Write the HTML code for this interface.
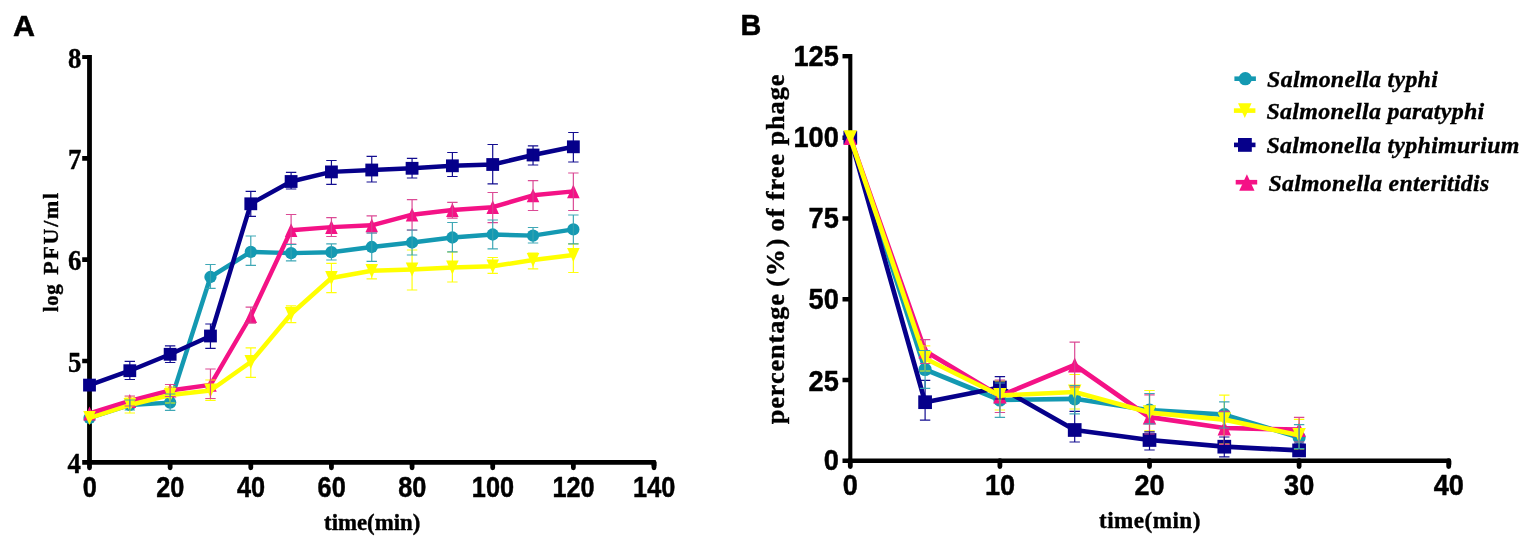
<!DOCTYPE html>
<html lang="en">
<head>
<meta charset="utf-8">
<title>Figure</title>
<style>
html,body{margin:0;padding:0;background:#fff;}
body{width:1535px;height:544px;overflow:hidden;}
svg{display:block;}
</style>
</head>
<body>
<svg width="1535" height="544" viewBox="0 0 1535 544" role="img" aria-label="Figure: one-step growth curve (A) and adsorption curve (B) of phage on four Salmonella serovars">
<rect width="1535" height="544" fill="#fff"/>
<text transform="translate(13.1 35.7) scale(1.02 1)" font-family='"Liberation Sans", sans-serif' font-size="29.9" font-weight="bold" text-anchor="start" fill="#000" stroke="#000" stroke-width="0.5" stroke-linejoin="round">A</text>
<text transform="translate(740.5 35.3) scale(0.95 1)" font-family='"Liberation Sans", sans-serif' font-size="30.3" font-weight="bold" text-anchor="start" fill="#000" stroke="#000" stroke-width="0.5" stroke-linejoin="round">B</text>
<g id="chartA">
<path d="M89.5,55.1V462.3H654V466.3" stroke="#000" stroke-width="4.8" fill="none" stroke-linejoin="round"/>
<path d="M82.2,462.3H89.5M82.2,360.98H89.5M82.2,259.65H89.5M82.2,158.32H89.5" stroke="#000" stroke-width="4.7" fill="none"/>
<path d="M82.2,57.05H89.5" stroke="#000" stroke-width="3.9" fill="none"/>
<path d="M89.5,462.3V467.8M170.14,462.3V467.8M250.79,462.3V467.8M331.43,462.3V467.8M412.07,462.3V467.8M492.71,462.3V467.8M573.36,462.3V467.8M654,462.3V467.8" stroke="#000" stroke-width="4.8" fill="none" stroke-linecap="round" stroke-linejoin="round"/>
<polyline points="89.5,418 129.82,405 170.14,402.6 210.46,277 250.79,251.8 291.11,253.1 331.43,252.2 371.75,247 412.07,242.5 452.39,237.5 492.71,234.5 533.04,235.6 573.36,229.4" fill="none" stroke="#1499b2" stroke-width="4.45" stroke-linejoin="round"/>
<circle cx="89.5" cy="418" r="6.14" fill="#1499b2"/>
<circle cx="129.82" cy="405" r="6.14" fill="#1499b2"/>
<circle cx="170.14" cy="402.6" r="6.14" fill="#1499b2"/>
<circle cx="210.46" cy="277" r="6.14" fill="#1499b2"/>
<circle cx="250.79" cy="251.8" r="6.14" fill="#1499b2"/>
<circle cx="291.11" cy="253.1" r="6.14" fill="#1499b2"/>
<circle cx="331.43" cy="252.2" r="6.14" fill="#1499b2"/>
<circle cx="371.75" cy="247" r="6.14" fill="#1499b2"/>
<circle cx="412.07" cy="242.5" r="6.14" fill="#1499b2"/>
<circle cx="452.39" cy="237.5" r="6.14" fill="#1499b2"/>
<circle cx="492.71" cy="234.5" r="6.14" fill="#1499b2"/>
<circle cx="533.04" cy="235.6" r="6.14" fill="#1499b2"/>
<circle cx="573.36" cy="229.4" r="6.14" fill="#1499b2"/>
<polyline points="89.5,385.1 129.82,370.7 170.14,354.3 210.46,336 250.79,203.8 291.11,181.5 331.43,171.9 371.75,170 412.07,168.3 452.39,165.8 492.71,164.5 533.04,155 573.36,146.8" fill="none" stroke="#06008a" stroke-width="4.45" stroke-linejoin="round"/>
<rect x="83.1" y="378.7" width="12.8" height="12.8" fill="#06008a"/>
<rect x="123.42" y="364.3" width="12.8" height="12.8" fill="#06008a"/>
<rect x="163.74" y="347.9" width="12.8" height="12.8" fill="#06008a"/>
<rect x="204.06" y="329.6" width="12.8" height="12.8" fill="#06008a"/>
<rect x="244.39" y="197.4" width="12.8" height="12.8" fill="#06008a"/>
<rect x="284.71" y="175.1" width="12.8" height="12.8" fill="#06008a"/>
<rect x="325.03" y="165.5" width="12.8" height="12.8" fill="#06008a"/>
<rect x="365.35" y="163.6" width="12.8" height="12.8" fill="#06008a"/>
<rect x="405.67" y="161.9" width="12.8" height="12.8" fill="#06008a"/>
<rect x="445.99" y="159.4" width="12.8" height="12.8" fill="#06008a"/>
<rect x="486.31" y="158.1" width="12.8" height="12.8" fill="#06008a"/>
<rect x="526.64" y="148.6" width="12.8" height="12.8" fill="#06008a"/>
<rect x="566.96" y="140.4" width="12.8" height="12.8" fill="#06008a"/>
<polyline points="89.5,413.5 129.82,401 170.14,390.5 210.46,384.9 250.79,316 291.11,230.2 331.43,227.1 371.75,225.3 412.07,214.7 452.39,210 492.71,207.2 533.04,195.3 573.36,191.4" fill="none" stroke="#f41286" stroke-width="4.45" stroke-linejoin="round"/>
<polygon points="89.5,406.59 95.77,420.41 83.23,420.41" fill="#f41286"/>
<polygon points="129.82,394.09 136.09,407.91 123.55,407.91" fill="#f41286"/>
<polygon points="170.14,383.59 176.41,397.41 163.87,397.41" fill="#f41286"/>
<polygon points="210.46,377.99 216.74,391.81 204.19,391.81" fill="#f41286"/>
<polygon points="250.79,309.09 257.06,322.91 244.51,322.91" fill="#f41286"/>
<polygon points="291.11,223.29 297.38,237.11 284.84,237.11" fill="#f41286"/>
<polygon points="331.43,220.19 337.7,234.01 325.16,234.01" fill="#f41286"/>
<polygon points="371.75,218.39 378.02,232.21 365.48,232.21" fill="#f41286"/>
<polygon points="412.07,207.79 418.34,221.61 405.8,221.61" fill="#f41286"/>
<polygon points="452.39,203.09 458.66,216.91 446.12,216.91" fill="#f41286"/>
<polygon points="492.71,200.29 498.99,214.11 486.44,214.11" fill="#f41286"/>
<polygon points="533.04,188.39 539.31,202.21 526.76,202.21" fill="#f41286"/>
<polygon points="573.36,184.49 579.63,198.31 567.09,198.31" fill="#f41286"/>
<polyline points="89.5,418 129.82,405 170.14,395 210.46,390.5 250.79,362 291.11,314 331.43,278 371.75,270.8 412.07,269.5 452.39,267.5 492.71,266.3 533.04,260 573.36,255" fill="none" stroke="#ffff00" stroke-width="4.45" stroke-linejoin="round"/>
<polygon points="89.5,424.91 95.77,411.09 83.23,411.09" fill="#ffff00"/>
<polygon points="129.82,411.91 136.09,398.09 123.55,398.09" fill="#ffff00"/>
<polygon points="170.14,401.91 176.41,388.09 163.87,388.09" fill="#ffff00"/>
<polygon points="210.46,397.41 216.74,383.59 204.19,383.59" fill="#ffff00"/>
<polygon points="250.79,368.91 257.06,355.09 244.51,355.09" fill="#ffff00"/>
<polygon points="291.11,320.91 297.38,307.09 284.84,307.09" fill="#ffff00"/>
<polygon points="331.43,284.91 337.7,271.09 325.16,271.09" fill="#ffff00"/>
<polygon points="371.75,277.71 378.02,263.89 365.48,263.89" fill="#ffff00"/>
<polygon points="412.07,276.41 418.34,262.59 405.8,262.59" fill="#ffff00"/>
<polygon points="452.39,274.41 458.66,260.59 446.12,260.59" fill="#ffff00"/>
<polygon points="492.71,273.21 498.99,259.39 486.44,259.39" fill="#ffff00"/>
<polygon points="533.04,266.91 539.31,253.09 526.76,253.09" fill="#ffff00"/>
<polygon points="573.36,261.91 579.63,248.09 567.09,248.09" fill="#ffff00"/>
<path d="M129.82,397V413M124.62,397h10.4M124.62,413h10.4M170.14,387V403M164.94,387h10.4M164.94,403h10.4M210.46,380V400.3M205.26,380h10.4M205.26,400.3h10.4M250.79,347.8V377.4M245.59,347.8h10.4M245.59,377.4h10.4M291.11,305.9V322.6M285.91,305.9h10.4M285.91,322.6h10.4M331.43,263.4V292.7M326.23,263.4h10.4M326.23,292.7h10.4M371.75,265V278.8M366.55,265h10.4M366.55,278.8h10.4M412.07,250V290M406.87,250h10.4M406.87,290h10.4M452.39,252V282M447.19,252h10.4M447.19,282h10.4M492.71,257.5V273.3M487.51,257.5h10.4M487.51,273.3h10.4M533.04,253V268.8M527.84,253h10.4M527.84,268.8h10.4M573.36,243.8V272.5M568.16,243.8h10.4M568.16,272.5h10.4" stroke="#ffff00" stroke-width="1.2" fill="none" opacity="0.95"/>
<path d="M129.82,396V406M124.62,396h10.4M124.62,406h10.4M170.14,384.5V396.5M164.94,384.5h10.4M164.94,396.5h10.4M210.46,369V398.5M205.26,369h10.4M205.26,398.5h10.4M250.79,307.2V323.1M245.59,307.2h10.4M245.59,323.1h10.4M291.11,214.5V244.2M285.91,214.5h10.4M285.91,244.2h10.4M331.43,217.6V236.5M326.23,217.6h10.4M326.23,236.5h10.4M371.75,215.9V233M366.55,215.9h10.4M366.55,233h10.4M412.07,199.7V230.1M406.87,199.7h10.4M406.87,230.1h10.4M452.39,202.4V218.2M447.19,202.4h10.4M447.19,218.2h10.4M492.71,192.5V222.6M487.51,192.5h10.4M487.51,222.6h10.4M533.04,180.7V210.5M527.84,180.7h10.4M527.84,210.5h10.4M573.36,173V210.5M568.16,173h10.4M568.16,210.5h10.4" stroke="#d9408f" stroke-width="1.2" fill="none" opacity="0.95"/>
<path d="M129.82,361.3V379.5M124.62,361.3h10.4M124.62,379.5h10.4M170.14,345.8V362.5M164.94,345.8h10.4M164.94,362.5h10.4M210.46,324V348.4M205.26,324h10.4M205.26,348.4h10.4M250.79,191.3V216.3M245.59,191.3h10.4M245.59,216.3h10.4M291.11,172.3V189M285.91,172.3h10.4M285.91,189h10.4M331.43,160.5V184.4M326.23,160.5h10.4M326.23,184.4h10.4M371.75,156.3V182M366.55,156.3h10.4M366.55,182h10.4M412.07,158.3V178M406.87,158.3h10.4M406.87,178h10.4M452.39,152.5V176.5M447.19,152.5h10.4M447.19,176.5h10.4M492.71,144.5V183.8M487.51,144.5h10.4M487.51,183.8h10.4M533.04,145.8V165M527.84,145.8h10.4M527.84,165h10.4M573.36,132.5V162M568.16,132.5h10.4M568.16,162h10.4" stroke="#06008a" stroke-width="1.2" fill="none" opacity="0.95"/>
<path d="M129.82,400V410M124.62,400h10.4M124.62,410h10.4M170.14,394V410.4M164.94,394h10.4M164.94,410.4h10.4M210.46,264.5V288.3M205.26,264.5h10.4M205.26,288.3h10.4M250.79,236V265.3M245.59,236h10.4M245.59,265.3h10.4M291.11,244.5V260.8M285.91,244.5h10.4M285.91,260.8h10.4M331.43,243.8V260M326.23,243.8h10.4M326.23,260h10.4M371.75,233V261.3M366.55,233h10.4M366.55,261.3h10.4M412.07,230V255M406.87,230h10.4M406.87,255h10.4M452.39,222.5V251.8M447.19,222.5h10.4M447.19,251.8h10.4M492.71,220V248.8M487.51,220h10.4M487.51,248.8h10.4M533.04,227.5V243M527.84,227.5h10.4M527.84,243h10.4M573.36,215V243.8M568.16,215h10.4M568.16,243.8h10.4" stroke="#35a3b2" stroke-width="1.2" fill="none" opacity="0.95"/>
<text transform="translate(80.8 473.25) scale(0.9 1)" font-family='"Liberation Serif", serif' font-size="29.8" font-weight="bold" text-anchor="end" fill="#000" stroke="#000" stroke-width="0.4" stroke-linejoin="round">4</text>
<text transform="translate(81.3 372.28) scale(0.9 1)" font-family='"Liberation Serif", serif' font-size="29.8" font-weight="bold" text-anchor="end" fill="#000" stroke="#000" stroke-width="0.4" stroke-linejoin="round">5</text>
<text transform="translate(81.3 270.15) scale(0.9 1)" font-family='"Liberation Serif", serif' font-size="29.8" font-weight="bold" text-anchor="end" fill="#000" stroke="#000" stroke-width="0.4" stroke-linejoin="round">6</text>
<text transform="translate(81.3 169.22) scale(0.9 1)" font-family='"Liberation Serif", serif' font-size="29.8" font-weight="bold" text-anchor="end" fill="#000" stroke="#000" stroke-width="0.4" stroke-linejoin="round">7</text>
<text transform="translate(81.3 68) scale(0.9 1)" font-family='"Liberation Serif", serif' font-size="29.8" font-weight="bold" text-anchor="end" fill="#000" stroke="#000" stroke-width="0.4" stroke-linejoin="round">8</text>
<text transform="translate(89.7 497) scale(0.855 1)" font-family='"Liberation Sans", sans-serif' font-size="29.6" font-weight="bold" text-anchor="middle" fill="#000" stroke="#000" stroke-width="0.5" stroke-linejoin="round">0</text>
<text transform="translate(170.34 497) scale(0.855 1)" font-family='"Liberation Sans", sans-serif' font-size="29.6" font-weight="bold" text-anchor="middle" fill="#000" stroke="#000" stroke-width="0.5" stroke-linejoin="round">20</text>
<text transform="translate(250.99 497) scale(0.855 1)" font-family='"Liberation Sans", sans-serif' font-size="29.6" font-weight="bold" text-anchor="middle" fill="#000" stroke="#000" stroke-width="0.5" stroke-linejoin="round">40</text>
<text transform="translate(331.63 497) scale(0.855 1)" font-family='"Liberation Sans", sans-serif' font-size="29.6" font-weight="bold" text-anchor="middle" fill="#000" stroke="#000" stroke-width="0.5" stroke-linejoin="round">60</text>
<text transform="translate(412.27 497) scale(0.855 1)" font-family='"Liberation Sans", sans-serif' font-size="29.6" font-weight="bold" text-anchor="middle" fill="#000" stroke="#000" stroke-width="0.5" stroke-linejoin="round">80</text>
<text transform="translate(492.91 497) scale(0.855 1)" font-family='"Liberation Sans", sans-serif' font-size="29.6" font-weight="bold" text-anchor="middle" fill="#000" stroke="#000" stroke-width="0.5" stroke-linejoin="round">100</text>
<text transform="translate(573.56 497) scale(0.855 1)" font-family='"Liberation Sans", sans-serif' font-size="29.6" font-weight="bold" text-anchor="middle" fill="#000" stroke="#000" stroke-width="0.5" stroke-linejoin="round">120</text>
<text transform="translate(654.2 497) scale(0.855 1)" font-family='"Liberation Sans", sans-serif' font-size="29.6" font-weight="bold" text-anchor="middle" fill="#000" stroke="#000" stroke-width="0.5" stroke-linejoin="round">140</text>
<text transform="translate(324.06 530.4) scale(1.0240 1)" font-family='"Liberation Serif", serif' font-size="22.3" font-weight="bold" fill="#000" stroke="#000" stroke-width="0.4" stroke-linejoin="round">time(min)</text>
<text transform="translate(58.3 312.12) rotate(-90) scale(0.9618 1)" font-family='"Liberation Serif", serif' font-size="21.6" font-weight="bold" letter-spacing="0.65" fill="#000" stroke="#000" stroke-width="0.4" stroke-linejoin="round">log</text>
<text transform="translate(58.3 274.73) rotate(-90) scale(1.0159 1)" font-family='"Liberation Serif", serif' font-size="21.6" font-weight="bold" letter-spacing="1.73" fill="#000" stroke="#000" stroke-width="0.4" stroke-linejoin="round">PFU/ml</text>
</g>
<g id="chartB">
<path d="M850.3,54.0V462.9" stroke="#000" stroke-width="4.1" fill="none"/>
<path d="M850.3,460.7V466.6M999.9,460.7V466.6M1149.5,460.7V466.6M1299.1,460.7V466.6M1448.7,460.7V466.6" stroke="#000" stroke-width="4.8" fill="none" stroke-linecap="round" stroke-linejoin="round"/>
<path d="M848.2,460.7H1449.1V464.7" stroke="#000" stroke-width="4.4" fill="none" stroke-linejoin="round"/>
<path d="M842.5,460.7H850.3M842.5,379.96H850.3M842.5,299.22H850.3M842.5,218.48H850.3M842.5,137.74H850.3" stroke="#000" stroke-width="4.4" fill="none"/>
<path d="M842.5,56.2H850.3" stroke="#000" stroke-width="4.4" fill="none"/>
<polyline points="850.3,137.7 925.1,369.5 999.9,400 1074.7,398.8 1149.5,410.2 1224.3,414.7 1299.1,437.5" fill="none" stroke="#1499b2" stroke-width="4.7" stroke-linejoin="round"/>
<circle cx="850.3" cy="137.7" r="6.58" fill="#1499b2"/>
<circle cx="925.1" cy="369.5" r="6.58" fill="#1499b2"/>
<circle cx="999.9" cy="400" r="6.58" fill="#1499b2"/>
<circle cx="1074.7" cy="398.8" r="6.58" fill="#1499b2"/>
<circle cx="1149.5" cy="410.2" r="6.58" fill="#1499b2"/>
<circle cx="1224.3" cy="414.7" r="6.58" fill="#1499b2"/>
<circle cx="1299.1" cy="437.5" r="6.58" fill="#1499b2"/>
<polyline points="850.3,137.7 925.1,402.2 999.9,387.5 1074.7,430 1149.5,440 1224.3,446.7 1299.1,450.4" fill="none" stroke="#06008a" stroke-width="4.7" stroke-linejoin="round"/>
<rect x="843.45" y="130.85" width="13.7" height="13.7" fill="#06008a"/>
<rect x="918.25" y="395.35" width="13.7" height="13.7" fill="#06008a"/>
<rect x="993.05" y="380.65" width="13.7" height="13.7" fill="#06008a"/>
<rect x="1067.85" y="423.15" width="13.7" height="13.7" fill="#06008a"/>
<rect x="1142.65" y="433.15" width="13.7" height="13.7" fill="#06008a"/>
<rect x="1217.45" y="439.85" width="13.7" height="13.7" fill="#06008a"/>
<rect x="1292.25" y="443.55" width="13.7" height="13.7" fill="#06008a"/>
<polyline points="850.3,137.7 925.1,351 999.9,396 1074.7,365 1149.5,417.2 1224.3,428 1299.1,429.7" fill="none" stroke="#f41286" stroke-width="4.7" stroke-linejoin="round"/>
<polygon points="850.3,130.3 857.01,145.1 843.59,145.1" fill="#f41286"/>
<polygon points="925.1,343.6 931.81,358.4 918.39,358.4" fill="#f41286"/>
<polygon points="999.9,388.6 1006.61,403.4 993.19,403.4" fill="#f41286"/>
<polygon points="1074.7,357.6 1081.41,372.4 1067.99,372.4" fill="#f41286"/>
<polygon points="1149.5,409.8 1156.21,424.6 1142.79,424.6" fill="#f41286"/>
<polygon points="1224.3,420.6 1231.01,435.4 1217.59,435.4" fill="#f41286"/>
<polygon points="1299.1,422.3 1305.81,437.1 1292.39,437.1" fill="#f41286"/>
<polyline points="850.3,137.7 925.1,358.5 999.9,395.5 1074.7,392 1149.5,412.6 1224.3,419.6 1299.1,435.3" fill="none" stroke="#ffff00" stroke-width="4.7" stroke-linejoin="round"/>
<polygon points="850.3,145.1 857.01,130.3 843.59,130.3" fill="#ffff00"/>
<polygon points="925.1,365.9 931.81,351.1 918.39,351.1" fill="#ffff00"/>
<polygon points="999.9,402.9 1006.61,388.1 993.19,388.1" fill="#ffff00"/>
<polygon points="1074.7,399.4 1081.41,384.6 1067.99,384.6" fill="#ffff00"/>
<polygon points="1149.5,420 1156.21,405.2 1142.79,405.2" fill="#ffff00"/>
<polygon points="1224.3,427 1231.01,412.2 1217.59,412.2" fill="#ffff00"/>
<polygon points="1299.1,442.7 1305.81,427.9 1292.39,427.9" fill="#ffff00"/>
<path d="M925.1,345.9V371M919.9,345.9h10.4M919.9,371h10.4M999.9,381V410M994.7,381h10.4M994.7,410h10.4M1074.7,374.5V409M1069.5,374.5h10.4M1069.5,409h10.4M1149.5,390.5V430.8M1144.3,390.5h10.4M1144.3,430.8h10.4M1224.3,395.2V444M1219.1,395.2h10.4M1219.1,444h10.4M1299.1,419.3V449M1293.9,419.3h10.4M1293.9,449h10.4" stroke="#ffff00" stroke-width="1.2" fill="none" opacity="0.95"/>
<path d="M925.1,339.6V363.5M919.9,339.6h10.4M919.9,363.5h10.4M999.9,380V412.5M994.7,380h10.4M994.7,412.5h10.4M1074.7,342.1V387M1069.5,342.1h10.4M1069.5,387h10.4M1149.5,394.9V434M1144.3,394.9h10.4M1144.3,434h10.4M1224.3,411.4V444.4M1219.1,411.4h10.4M1219.1,444.4h10.4M1299.1,417.4V442M1293.9,417.4h10.4M1293.9,442h10.4" stroke="#d9408f" stroke-width="1.2" fill="none" opacity="0.95"/>
<path d="M925.1,380.3V420.1M919.9,380.3h10.4M919.9,420.1h10.4M999.9,376.7V399M994.7,376.7h10.4M994.7,399h10.4M1074.7,411.3V442M1069.5,411.3h10.4M1069.5,442h10.4M1149.5,431.9V450M1144.3,431.9h10.4M1144.3,450h10.4M1224.3,437V456.8M1219.1,437h10.4M1219.1,456.8h10.4M1299.1,444V455.5M1293.9,444h10.4M1293.9,455.5h10.4" stroke="#06008a" stroke-width="1.2" fill="none" opacity="0.95"/>
<path d="M925.1,350.5V388.3M919.9,350.5h10.4M919.9,388.3h10.4M999.9,383V417.3M994.7,383h10.4M994.7,417.3h10.4M1074.7,385.5V413.8M1069.5,385.5h10.4M1069.5,413.8h10.4M1149.5,393.5V423.8M1144.3,393.5h10.4M1144.3,423.8h10.4M1224.3,401.8V428M1219.1,401.8h10.4M1219.1,428h10.4M1299.1,424.7V448.6M1293.9,424.7h10.4M1293.9,448.6h10.4" stroke="#35a3b2" stroke-width="1.2" fill="none" opacity="0.95"/>
<text transform="translate(838.8 470.2) scale(0.898 1)" font-family='"Liberation Sans", sans-serif' font-size="30.3" font-weight="bold" text-anchor="end" fill="#000" stroke="#000" stroke-width="0.5" stroke-linejoin="round">0</text>
<text transform="translate(838.8 390.56) scale(0.898 1)" font-family='"Liberation Sans", sans-serif' font-size="30.3" font-weight="bold" text-anchor="end" fill="#000" stroke="#000" stroke-width="0.5" stroke-linejoin="round">25</text>
<text transform="translate(838.8 308.72) scale(0.898 1)" font-family='"Liberation Sans", sans-serif' font-size="30.3" font-weight="bold" text-anchor="end" fill="#000" stroke="#000" stroke-width="0.5" stroke-linejoin="round">50</text>
<text transform="translate(838.8 227.98) scale(0.898 1)" font-family='"Liberation Sans", sans-serif' font-size="30.3" font-weight="bold" text-anchor="end" fill="#000" stroke="#000" stroke-width="0.5" stroke-linejoin="round">75</text>
<text transform="translate(838.8 147.24) scale(0.898 1)" font-family='"Liberation Sans", sans-serif' font-size="30.3" font-weight="bold" text-anchor="end" fill="#000" stroke="#000" stroke-width="0.5" stroke-linejoin="round">100</text>
<text transform="translate(838.8 65.7) scale(0.898 1)" font-family='"Liberation Sans", sans-serif' font-size="30.3" font-weight="bold" text-anchor="end" fill="#000" stroke="#000" stroke-width="0.5" stroke-linejoin="round">125</text>
<text transform="translate(850.4 495.2) scale(0.895 1)" font-family='"Liberation Sans", sans-serif' font-size="30.3" font-weight="bold" text-anchor="middle" fill="#000" stroke="#000" stroke-width="0.5" stroke-linejoin="round">0</text>
<text transform="translate(1000 495.2) scale(0.895 1)" font-family='"Liberation Sans", sans-serif' font-size="30.3" font-weight="bold" text-anchor="middle" fill="#000" stroke="#000" stroke-width="0.5" stroke-linejoin="round">10</text>
<text transform="translate(1149.6 495.2) scale(0.895 1)" font-family='"Liberation Sans", sans-serif' font-size="30.3" font-weight="bold" text-anchor="middle" fill="#000" stroke="#000" stroke-width="0.5" stroke-linejoin="round">20</text>
<text transform="translate(1299.2 495.2) scale(0.895 1)" font-family='"Liberation Sans", sans-serif' font-size="30.3" font-weight="bold" text-anchor="middle" fill="#000" stroke="#000" stroke-width="0.5" stroke-linejoin="round">30</text>
<text transform="translate(1448.8 495.2) scale(0.895 1)" font-family='"Liberation Sans", sans-serif' font-size="30.3" font-weight="bold" text-anchor="middle" fill="#000" stroke="#000" stroke-width="0.5" stroke-linejoin="round">40</text>
<text transform="translate(1099.05 528.3) scale(1.0064 1)" font-family='"Liberation Serif", serif' font-size="23" font-weight="bold" letter-spacing="0.46" fill="#000" stroke="#000" stroke-width="0.4" stroke-linejoin="round">time(min)</text>
<text transform="translate(784.2 424.19) rotate(-90) scale(1.0007 1)" font-family='"Liberation Serif", serif' font-size="26.2" font-weight="bold" letter-spacing="0.92" fill="#000" stroke="#000" stroke-width="0.4" stroke-linejoin="round">percentage</text>
<text transform="translate(784.2 286.92) rotate(-90) scale(1.0377 1)" font-family='"Liberation Serif", serif' font-size="26.2" font-weight="bold" letter-spacing="1.57" fill="#000" stroke="#000" stroke-width="0.4" stroke-linejoin="round">(%)</text>
<text transform="translate(784.2 231.45) rotate(-90) scale(1.0057 1)" font-family='"Liberation Serif", serif' font-size="26.2" font-weight="bold" letter-spacing="0.92" fill="#000" stroke="#000" stroke-width="0.4" stroke-linejoin="round">of free phage</text>
</g>
<g id="legend">
<path d="M1234.4,78.7h21.5" stroke="#1499b2" stroke-width="4.6"/>
<circle cx="1245.3" cy="78.7" r="6.62" fill="#1499b2"/>
<text transform="translate(1267.1 87.4) scale(0.9949 1)" font-family='"Liberation Serif", serif' font-size="24" font-weight="bold" font-style="italic" letter-spacing="0.29" fill="#000" stroke="#000" stroke-width="0.35" stroke-linejoin="round">Salmonella typhi</text>
<path d="M1233.9,110.6h21.5" stroke="#ffff00" stroke-width="4.6"/>
<polygon points="1244.8,118.05 1251.56,103.15 1238.04,103.15" fill="#ffff00"/>
<text transform="translate(1266.5 119.3) scale(0.9981 1)" font-family='"Liberation Serif", serif' font-size="24" font-weight="bold" font-style="italic" letter-spacing="0.29" fill="#000" stroke="#000" stroke-width="0.35" stroke-linejoin="round">Salmonella paratyphi</text>
<path d="M1234,144.9h21.5" stroke="#06008a" stroke-width="4.6"/>
<rect x="1238" y="138" width="13.8" height="13.8" fill="#06008a"/>
<text transform="translate(1266.5 153) scale(0.9980 1)" font-family='"Liberation Serif", serif' font-size="24" font-weight="bold" font-style="italic" letter-spacing="0.29" fill="#000" stroke="#000" stroke-width="0.35" stroke-linejoin="round">Salmonella typhimurium</text>
<path d="M1235.7,182.2h21.5" stroke="#f41286" stroke-width="4.6"/>
<polygon points="1246.9,174.2 1254.5,190.7 1239.2,190.7" fill="#f41286"/>
<text transform="translate(1268.5 191.4) scale(0.9916 1)" font-family='"Liberation Serif", serif' font-size="24" font-weight="bold" font-style="italic" letter-spacing="0.29" fill="#000" stroke="#000" stroke-width="0.35" stroke-linejoin="round">Salmonella enteritidis</text>
</g>
</svg>
</body>
</html>
